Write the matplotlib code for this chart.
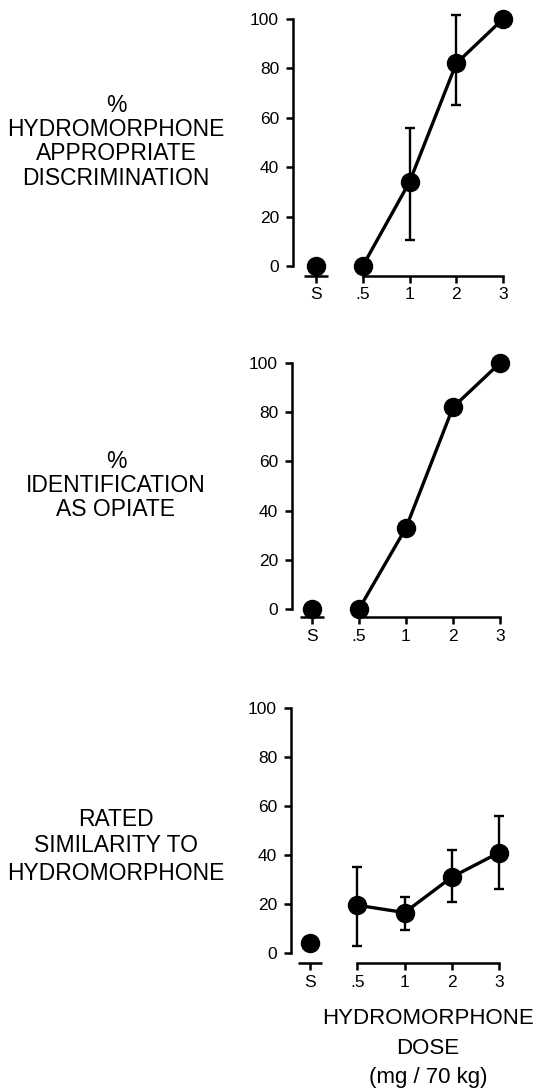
import numpy as np
import matplotlib
matplotlib.use("Agg")
import matplotlib.pyplot as plt
import matplotlib.transforms as mtransforms

plt.rcParams['font.family'] = ['Liberation Sans', 'DejaVu Sans']

# ---- data ----
dose_labels = ['S', '.5', '1', '2', '3']
y_ticks = [0, 20, 40, 60, 80, 100]

disc_mean = [0, 0, 34, 82, 100]
disc_upper = [None, None, 56, 101.5, None]
disc_lower = [None, None, 10.5, 65, None]

ident_mean = [0, 0, 33, 82, 100]
ident_upper = [None, None, None, None, None]
ident_lower = [None, None, None, None, None]

sim_mean = [4, 19.5, 16.5, 31, 41]
sim_upper = [None, 35, 23, 42, 56]
sim_lower = [None, 3, 9.5, 21, 26]

panel_labels = [
    ['%', 'HYDROMORPHONE', 'APPROPRIATE', 'DISCRIMINATION'],
    ['%', 'IDENTIFICATION', 'AS OPIATE'],
    ['RATED', 'SIMILARITY TO', 'HYDROMORPHONE'],
]
xlabel_lines = ['HYDROMORPHONE', 'DOSE', '(mg / 70 kg)']

W, H = 537, 1091
fig = plt.figure(figsize=(W / 100, H / 100), dpi=100)

# layout specs in pixels
specs = [
    dict(ax_x=293, s_x=316, unit=46.75, zero_y=266, scale=2.47, axis_y=275.5),
    dict(ax_x=292, s_x=312, unit=47.0, zero_y=609, scale=2.46, axis_y=617),
    dict(ax_x=291, s_x=310, unit=47.3, zero_y=953, scale=2.45, axis_y=963),
]
label_ys = [[105, 129, 154, 179], [462, 486, 510], [819, 846, 873]]

datasets = [
    (disc_mean, disc_upper, disc_lower),
    (ident_mean, ident_upper, ident_lower),
    (sim_mean, sim_upper, sim_lower),
]

x_right = 4.4
y_top = 102
for i, (spec, (mean, upper, lower)) in enumerate(zip(specs, datasets)):
    x_left = -(spec['s_x'] - spec['ax_x']) / spec['unit']
    right_px = spec['s_x'] + x_right * spec['unit']
    y_bot = -(spec['axis_y'] - spec['zero_y']) / spec['scale']
    top_px = spec['zero_y'] - y_top * spec['scale']
    ax = fig.add_axes([spec['ax_x'] / W, 1 - spec['axis_y'] / H,
                       (right_px - spec['ax_x']) / W,
                       (spec['axis_y'] - top_px) / H])
    ax.set_xlim(x_left, x_right)
    ax.set_ylim(y_bot, y_top)

    xs = np.arange(len(dose_labels))
    ax.plot(xs[0], mean[0], 'o', color='black', ms=13, clip_on=False, zorder=5)
    ax.plot(xs[1:], mean[1:], '-o', color='black', lw=2.4, ms=13,
            clip_on=False, zorder=5)
    for xi, m, up, lo in zip(xs, mean, upper, lower):
        if up is None:
            continue
        ax.errorbar([xi], [m], yerr=[[m - lo], [up - m]], fmt='none',
                    ecolor='black', elinewidth=1.7, capsize=3.5,
                    capthick=1.7, clip_on=False, zorder=4)

    for side in ['top', 'right']:
        ax.spines[side].set_visible(False)
    ax.spines['left'].set_bounds(0, 100)
    ax.spines['bottom'].set_bounds(1, 4)
    ax.spines['left'].set_linewidth(1.8)
    ax.spines['bottom'].set_linewidth(1.8)

    trans = mtransforms.blended_transform_factory(ax.transData, ax.transAxes)
    ax.plot([-0.25, 0.25], [0, 0], color='black', lw=1.8, transform=trans,
            clip_on=False, solid_capstyle='butt')

    ax.set_yticks(y_ticks)
    ax.set_yticklabels([str(t) for t in y_ticks])
    ax.set_xticks(xs)
    ax.set_xticklabels(dose_labels)
    ax.tick_params(axis='both', direction='out', length=5, width=1.8,
                   labelsize=12.5, pad=3.5, color='black')
    ax.tick_params(axis='y', pad=5)

    for txt, yp in zip(panel_labels[i], label_ys[i]):
        fig.text(116 / W, 1 - yp / H, txt, ha='center', va='center',
                 fontsize=16.5)

for txt, yp in zip(xlabel_lines, [1018, 1049, 1078]):
    fig.text(428 / W, 1 - yp / H, txt, ha='center', va='center',
             fontsize=16)

fig.savefig('out.png', dpi=100)
